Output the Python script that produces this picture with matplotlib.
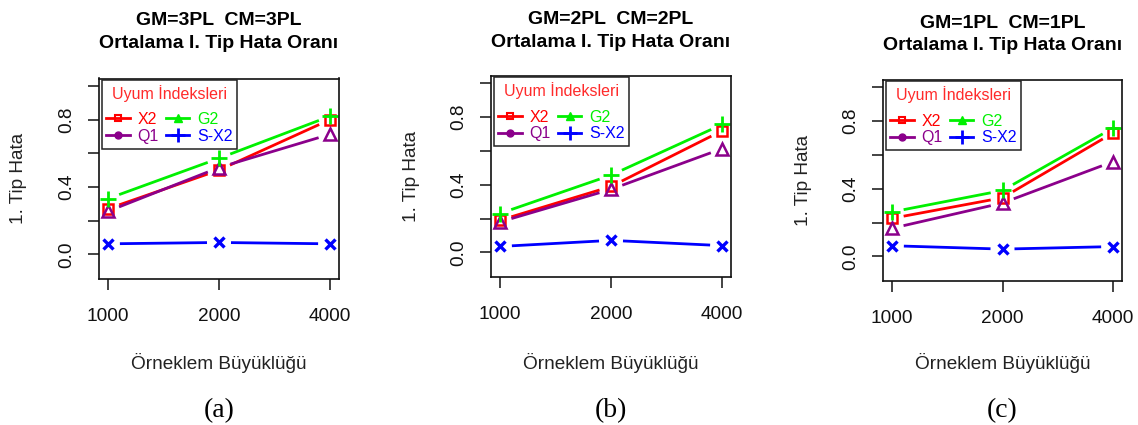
import matplotlib
matplotlib.use("Agg")
import matplotlib.pyplot as plt
from matplotlib.lines import Line2D
import numpy as np

plt.rcParams['font.family'] = ['Liberation Sans', 'DejaVu Sans']

# ---- data ----
sample_sizes = ["1000", "2000", "4000"]
panel_titles = ["GM=3PL  CM=3PL\nOrtalama I. Tip Hata Oranı",
                "GM=2PL  CM=2PL\nOrtalama I. Tip Hata Oranı",
                "GM=1PL  CM=1PL\nOrtalama I. Tip Hata Oranı"]
captions = ["(a)", "(b)", "(c)"]

x2_a = [0.27, 0.50, 0.80]
g2_a = [0.33, 0.57, 0.82]
q1_a = [0.255, 0.515, 0.713]
sx2_a = [0.062, 0.070, 0.062]

x2_b = [0.19, 0.39, 0.72]
g2_b = [0.23, 0.457, 0.757]
q1_b = [0.18, 0.373, 0.614]
sx2_b = [0.035, 0.071, 0.040]

x2_c = [0.225, 0.347, 0.731]
g2_c = [0.263, 0.39, 0.76]
q1_c = [0.166, 0.316, 0.561]
sx2_c = [0.063, 0.043, 0.058]

panels = [
    {"X2": x2_a, "G2": g2_a, "Q1": q1_a, "S-X2": sx2_a},
    {"X2": x2_b, "G2": g2_b, "Q1": q1_b, "S-X2": sx2_b},
    {"X2": x2_c, "G2": g2_c, "Q1": q1_c, "S-X2": sx2_c},
]

# ---- styles ----
RED = "#FF0000"
GREEN = "#00F000"
PURPLE = "#8B008B"
BLUE = "#0000FF"
series_style = {
    "X2": dict(color=RED, marker="s", ms=7.5, mfc="none", mew=1.8),
    "Q1": dict(color=PURPLE, marker="^", ms=8.5, mfc="none", mew=1.8),
    "G2": dict(color=GREEN, marker="+", ms=11, mew=2.0),
    "S-X2": dict(color=BLUE, marker="x", ms=6.5, mew=2.4),
}
draw_order = ["X2", "Q1", "G2", "S-X2"]

W, H = 1138, 425
fig = plt.figure(figsize=(W / 100, H / 100), dpi=100)

# axes boxes in pixels: left, top, width, height
boxes = [(99, 78.5, 240, 200), (491, 76, 240, 200.7), (883, 80, 239, 200.7)]

GAP = 12.0  # px gap around points (R type="b")


def gapped_segments(ax, xs, ys):
    trans = ax.transData
    inv = trans.inverted()
    pts = trans.transform(np.column_stack([xs, ys]))
    segs = []
    for i in range(len(pts) - 1):
        p0, p1 = pts[i], pts[i + 1]
        d = p1 - p0
        L = np.hypot(*d)
        if L <= 2 * GAP:
            continue
        u = d / L
        a = inv.transform(p0 + u * GAP)
        b = inv.transform(p1 - u * GAP)
        segs.append((a, b))
    return segs


for k, (data, (l, t, w, h)) in enumerate(zip(panels, boxes)):
    ax = fig.add_axes([l / W, 1 - (t + h) / H, w / W, h / H])
    xs = np.arange(1, len(sample_sizes) + 1)
    ax.set_xlim(0.92, 3.08)
    ax.set_ylim(-0.144, 1.044)
    fig.canvas.draw()
    for name in draw_order:
        st = series_style[name]
        ys = data[name]
        for a, b in gapped_segments(ax, xs, ys):
            ax.plot([a[0], b[0]], [a[1], b[1]], color=st["color"], lw=2.0,
                    solid_capstyle="butt")
        ax.plot(xs, ys, linestyle="none", color=st["color"], marker=st["marker"],
                ms=st["ms"], mfc=st.get("mfc", st["color"]), mec=st["color"],
                mew=st["mew"])

    ax.set_xticks(xs)
    ax.set_xticklabels(sample_sizes)
    ax.set_yticks([0.0, 0.2, 0.4, 0.6, 0.8, 1.0])
    ax.set_yticklabels(["0.0", "", "0.4", "", "0.8", ""])
    ax.tick_params(axis="both", direction="out", length=8, width=1.1,
                   labelsize=13.7, colors="#111111")
    ax.tick_params(axis="x", pad=13)
    ax.tick_params(axis="y", pad=9)
    for lab in ax.get_yticklabels():
        lab.set_rotation(90)
        lab.set_va("center")
    for sp in ax.spines.values():
        sp.set_linewidth(1.2)
        sp.set_color("#111111")

    ax.set_xlabel("Örneklem Büyüklüğü", fontsize=13.7, color="#222222")
    ax.xaxis.set_label_coords(0.5, -(363 - (t + h)) / h)
    ax.xaxis.label.set_va("center")
    ax.set_ylabel("1. Tip Hata", fontsize=13.7, color="#222222")
    ax.yaxis.set_label_coords(-80 / w, 0.5)
    ax.yaxis.label.set_va("center")

    title_center = [32, 31, 34.5][k]
    ax.set_title(panel_titles[k], fontsize=14, fontweight="bold",
                 linespacing=1.45, y=1 + (t - title_center) / h, pad=0,
                 va="center")

    # legend
    handles = [
        Line2D([], [], color=RED, lw=2, marker="s", ms=5, mfc="none", mew=1.5),
        Line2D([], [], color=PURPLE, lw=2, marker="o", ms=5),
        Line2D([], [], color=GREEN, lw=2, marker="^", ms=6),
        Line2D([], [], color=BLUE, lw=2, marker="+", ms=10, mew=2),
    ]
    labels = ["X2", "Q1", "G2", "S-X2"]
    tcolors = [RED, PURPLE, GREEN, BLUE]
    leg = ax.legend(handles, labels, ncol=2, loc="upper left",
                    bbox_to_anchor=(0.011, 0.993), borderaxespad=0,
                    title="Uyum İndeksleri", fontsize=11.5, title_fontsize=11.5,
                    fancybox=False, framealpha=1, edgecolor="#222222",
                    handlelength=1.45, handletextpad=0.5, columnspacing=0.45,
                    labelspacing=0.12, borderpad=0.3)
    leg._legend_box.sep = 7.5
    leg.get_frame().set_linewidth(1.1)
    leg.get_title().set_color("#FF2A2A")
    for txt, c in zip(leg.get_texts(), tcolors):
        txt.set_color(c)

    cx = (l + w / 2) / W
    fig.text(cx, 1 - 411 / H, captions[k], ha="center", va="center",
             fontsize=20, family="Liberation Serif")

fig.savefig("out.png", dpi=100)
